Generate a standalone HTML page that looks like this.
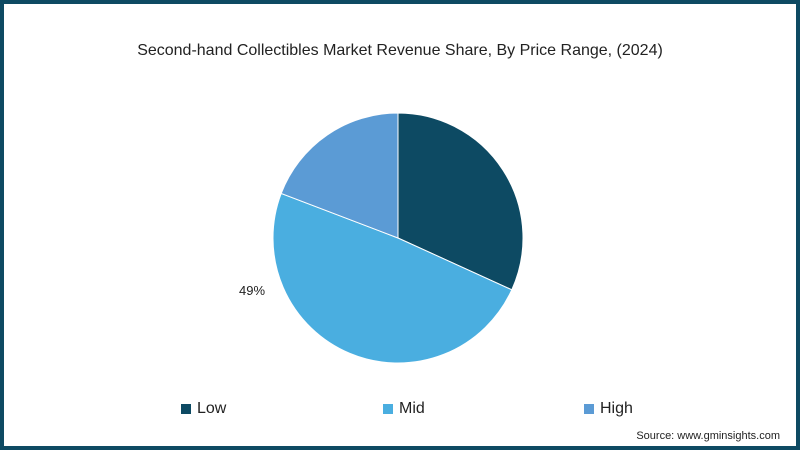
<!DOCTYPE html>
<html><head><meta charset="utf-8"><style>
body{margin:0;background:#fff;}
#wrap{position:relative;width:800px;height:450px;box-sizing:border-box;border:4px solid #0e4a63;background:#fff;font-family:"Liberation Sans",sans-serif;overflow:hidden}
#title{position:absolute;left:0;right:0;top:38px;text-align:center;font-size:16px;color:#222}
.leg{position:absolute;top:396px;font-size:16px;color:#222;display:flex;align-items:center}
.leg span.sw{width:10px;height:10px;display:inline-block;margin-right:6px}
#src{position:absolute;right:16px;top:426px;font-size:11px;color:#222}
</style></head><body>
<div id="wrap">
<div id="title">Second-hand Collectibles Market Revenue Share, By Price Range, (2024)</div>
<svg id="pie" width="792" height="442" style="position:absolute;left:0;top:0"></svg>
<div class="leg" style="left:177px"><span class="sw" style="background:#0d4a63"></span>Low</div>
<div class="leg" style="left:379px"><span class="sw" style="background:#4aaee0"></span>Mid</div>
<div class="leg" style="left:580px"><span class="sw" style="background:#5b9bd5"></span>High</div>
<div id="src">Source: www.gminsights.com</div>
</div>
<script>
const categories=["Low","Mid","High"];
const shares=[31.8,49,19.2];
const shownLabels=["","49%",""];
const colors=["#0d4a63","#4aaee0","#5b9bd5"];
const svg=document.getElementById('pie');
const ns="http://www.w3.org/2000/svg";
const cx=394,cy=234,r=125;
const total=shares.reduce((a,b)=>a+b,0);
let a0=0;
function pt(a,rr){const t=a/total*2*Math.PI;return [cx+rr*Math.sin(t),cy-rr*Math.cos(t)];}
shares.forEach((v,i)=>{
  const a1=a0+v;
  const p0=pt(a0,r),p1=pt(a1,r);
  const large=v/total>0.5?1:0;
  const path=document.createElementNS(ns,'path');
  path.setAttribute('d',`M${cx},${cy}L${p0[0]},${p0[1]}A${r},${r} 0 ${large} 1 ${p1[0]},${p1[1]}Z`);
  path.setAttribute('fill',colors[i]);
  path.setAttribute('stroke','#fff');
  path.setAttribute('stroke-width','1');
  
  
  svg.appendChild(path);
  if(shownLabels[i]){
    const t=document.createElementNS(ns,'text');
    t.setAttribute('x',248);t.setAttribute('y',291);
    t.setAttribute('text-anchor','middle');
    t.setAttribute('font-size','13');t.setAttribute('fill','#222');
    t.setAttribute('font-family','Liberation Sans, sans-serif');
    t.textContent=shownLabels[i];
    
    
    svg.appendChild(t);
  }
  a0=a1;
});
</script>
</body></html>
